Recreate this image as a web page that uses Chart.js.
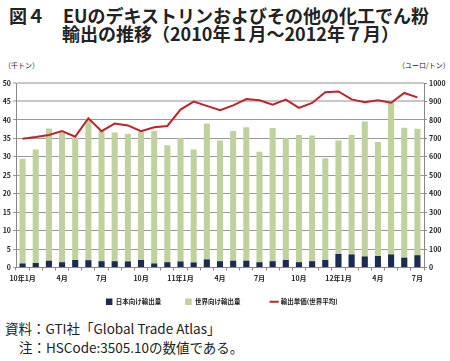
<!DOCTYPE html>
<html>
<head>
<meta charset="utf-8">
<script src="https://cdn.jsdelivr.net/npm/chart.js@4.4.0/dist/chart.umd.min.js"></script>
<style>
  body { margin: 0; width: 450px; height: 361px; background: #fff; position: relative; overflow: hidden;
         font-family: "Noto Sans CJK JP", sans-serif; color: #222; }
  .title { position: absolute; font-size: 18px; font-weight: bold; white-space: nowrap; line-height: 1; }
  .unit { position: absolute; font-size: 7px; top: 60px; white-space: nowrap; }
  .note { position: absolute; font-size: 13.5px; white-space: nowrap; line-height: 1; }
  #wrap { position: absolute; left: 0; top: 55px; width: 450px; height: 260px; }
</style>
</head>
<body>
<div class="title" style="left:9px;top:6px;">図４　EUのデキストリンおよびその他の化工でん粉</div>
<div class="title" style="left:62px;top:24px;">輸出の推移（2010年１月～2012年７月）</div>
<div class="unit" style="left:4px;">（千トン）</div>
<div class="unit" style="left:398px;">（ユーロ/トン）</div>
<div id="wrap"><canvas id="myChart"></canvas></div>
<div class="note" style="left:5px;top:322px;">資料：GTI社「Global Trade Atlas」</div>
<div class="note" style="left:19px;top:341px;">注：HSCode:3505.10の数値である。</div>

<script>
// 2010年1月〜2012年7月（31か月）
const months = ['10年1月', '2', '3', '4月', '5', '6', '7月', '8', '9', '10月', '11', '12',
                '11年1月', '2', '3', '4月', '5', '6', '7月', '8', '9', '10月', '11', '12',
                '12年1月', '2', '3', '4月', '5', '6', '7月'];
const tickLabels = ['10年1月', '', '', '4月', '', '', '7月', '', '', '10月', '', '',
                    '11年1月', '', '', '4月', '', '', '7月', '', '', '10月', '', '',
                    '12年1月', '', '', '4月', '', '', '7月'];

// 日本向け輸出量（千トン）
const japanExports = [1.1, 1.25, 1.8, 1.4, 2.05, 1.95, 1.7, 1.7, 1.6, 2.05, 1.1, 1.4,
                      1.6, 1.35, 2.2, 1.7, 1.85, 1.85, 1.4, 1.7, 2.05, 1.4, 1.7, 2.0,
                      3.65, 3.5, 3.0, 3.1, 3.55, 2.65, 3.3];
// 世界向け輸出量（千トン）
const worldExports = [29.5, 32.0, 37.7, 36.6, 35.2, 40.1, 37.1, 36.6, 36.2, 36.8, 37.0, 33.1,
                      35.0, 32.0, 39.0, 34.4, 37.0, 38.0, 31.4, 37.8, 35.0, 35.9, 35.8, 29.6,
                      34.4, 35.9, 39.6, 34.0, 44.8, 37.9, 37.6];
// 輸出単価（世界平均、ユーロ/トン）
const unitPrice = [698, 707, 718, 739, 709, 809, 739, 780, 770, 739, 760, 767,
                   856, 899, 876, 853, 879, 913, 906, 883, 910, 865, 892, 950,
                   954, 911, 896, 907, 893, 946, 922];

const navy = '#1c2b55';
const green = '#bfd19c';
const red = '#c0242a';
const tickFont = { family: 'Noto Sans CJK JP', size: 7, weight: 'bold' };
// 凡例の項目間隔（末尾の全角スペース数）
const legendGap = ['\u3000\u3000', '\u3000\u3000\u3000', '\u3000'];

document.addEventListener('DOMContentLoaded', function () {
    const ctx = document.getElementById('myChart').getContext('2d');

    new Chart(ctx, {
        type: 'bar',
        data: {
            labels: months,
            datasets: [
                {
                    label: '日本向け輸出量',
                    data: japanExports,
                    backgroundColor: navy,
                    yAxisID: 'y',
                    order: 1,
                    pointStyle: 'rect'
                },
                {
                    label: '世界向け輸出量',
                    data: worldExports,
                    backgroundColor: green,
                    yAxisID: 'y',
                    order: 2,
                    pointStyle: 'rect'
                },
                {
                    type: 'line',
                    label: '輸出単価(世界平均)',
                    data: unitPrice,
                    borderColor: red,
                    backgroundColor: red,
                    borderWidth: 2,
                    pointRadius: 0,
                    tension: 0,
                    yAxisID: 'y2',
                    order: 0,
                    pointStyle: 'line'
                }
            ]
        },
        options: {
            responsive: true,
            maintainAspectRatio: false,
            animation: false,
            categoryPercentage: 1,
            barPercentage: 0.46,
            layout: { padding: { top: 28, left: 0, right: 0, bottom: 0 } },
            plugins: {
                tooltip: { enabled: false },
                legend: {
                    position: 'bottom',
                    labels: {
                        usePointStyle: true,
                        boxWidth: 7,
                        boxHeight: 7,
                        padding: 11,
                        color: '#222',
                        font: { family: 'Noto Sans CJK JP', size: 6.5, weight: 'bold' },
                        sort: (a, b) => a.datasetIndex - b.datasetIndex,
                        generateLabels: chart => {
                            const items = Chart.defaults.plugins.legend.labels.generateLabels(chart);
                            items.forEach(it => { it.text += legendGap[it.datasetIndex]; });
                            return items;
                        }
                    }
                }
            },
            scales: {
                x: {
                    stacked: true,
                    afterFit: s => { s.height = 20; },
                    grid: { offset: true, drawOnChartArea: false, tickLength: 3, color: '#888' },
                    border: { color: '#888' },
                    ticks: {
                        autoSkip: false,
                        maxRotation: 0,
                        padding: 4,
                        color: '#222',
                        font: tickFont,
                        callback: (v, i) => tickLabels[i]
                    }
                },
                y: {
                    position: 'left',
                    min: 0,
                    max: 50,
                    afterFit: s => { s.width = 16; },
                    ticks: { stepSize: 5, color: '#222', font: tickFont, padding: 2 },
                    grid: {
                        tickLength: 3,
                        color: c => (c.tick && c.tick.value >= 45) ? '#c8c8c8' : '#999',
                        lineWidth: c => (c.tick && c.tick.value >= 45) ? 2 : 1
                    },
                    border: { color: '#888' }
                },
                y2: {
                    position: 'right',
                    min: 0,
                    max: 1000,
                    afterFit: s => { s.width = 26; },
                    ticks: { stepSize: 100, color: '#222', font: tickFont, padding: 2,
                             callback: v => String(v) },
                    grid: { drawOnChartArea: false, tickLength: 3, color: '#888' },
                    border: { color: '#888' }
                }
            }
        }
    });
});
</script>
</body>
</html>
